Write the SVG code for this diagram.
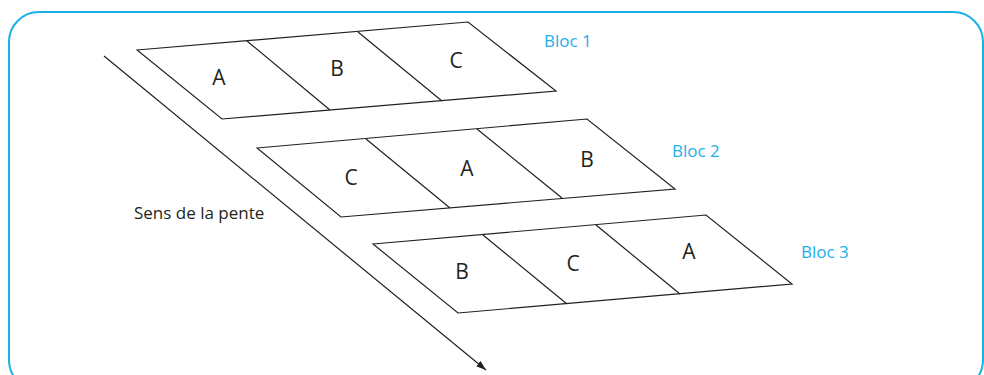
<svg xmlns="http://www.w3.org/2000/svg" width="984" height="375" viewBox="0 0 984 375">
<style>
.frame{fill:none;stroke:#1ab0e8;stroke-width:2}
.plot{fill:none;stroke:#231f20;stroke-width:1.2;stroke-linejoin:miter}
.lbl{font-family:"Open Sans","Liberation Sans",sans-serif;font-size:21px;fill:#231f20;text-anchor:middle}
.bloc{font-family:"Open Sans","Liberation Sans",sans-serif;font-size:17px;fill:#1ab0e8}
.txt{font-family:"Open Sans","Liberation Sans",sans-serif;font-size:17px;fill:#231f20}
</style>
<defs>
<marker id="ah" viewBox="0 0 10 7" refX="10" refY="3.5" markerWidth="10" markerHeight="7" markerUnits="userSpaceOnUse" orient="auto">
<path d="M0,0 L10,3.5 L0,7 Z" fill="#231f20"/>
</marker>
</defs>
<rect x="9" y="12" width="974" height="378" rx="30" ry="30" class="frame"/>
<g id="connectors">
<line x1="104" y1="56" x2="486" y2="370" class="plot" marker-end="url(#ah)"/>
</g>
<g id="bloc1">
<path d="M137,50 L468,22 L556,91 L222,119 Z" class="plot"/>
<line x1="247" y1="41" x2="330" y2="110" class="plot"/>
<line x1="358" y1="32" x2="442" y2="101" class="plot"/>
<text x="219" y="85" class="lbl">A</text>
<text x="337" y="76" class="lbl">B</text>
<text x="456" y="68" class="lbl">C</text>
<text x="544" y="47" class="bloc">Bloc 1</text>
</g>
<g id="bloc2">
<path d="M257,148 L587,119 L675,189 L341,217 Z" class="plot"/>
<line x1="366" y1="139" x2="450" y2="208" class="plot"/>
<line x1="477" y1="129" x2="562" y2="198" class="plot"/>
<text x="351" y="185" class="lbl">C</text>
<text x="467" y="176" class="lbl">A</text>
<text x="587" y="167" class="lbl">B</text>
<text x="672" y="157" class="bloc">Bloc 2</text>
</g>
<g id="bloc3">
<path d="M373,244 L706,215 L792,284 L458,313 Z" class="plot"/>
<line x1="483" y1="235" x2="567" y2="304" class="plot"/>
<line x1="596" y1="225" x2="680" y2="294" class="plot"/>
<text x="462" y="279" class="lbl">B</text>
<text x="573" y="271" class="lbl">C</text>
<text x="689" y="259" class="lbl">A</text>
<text x="801" y="258" class="bloc">Bloc 3</text>
</g>
<g id="pente">
<text x="134" y="219" class="txt">Sens de la pente</text>
</g>
</svg>
